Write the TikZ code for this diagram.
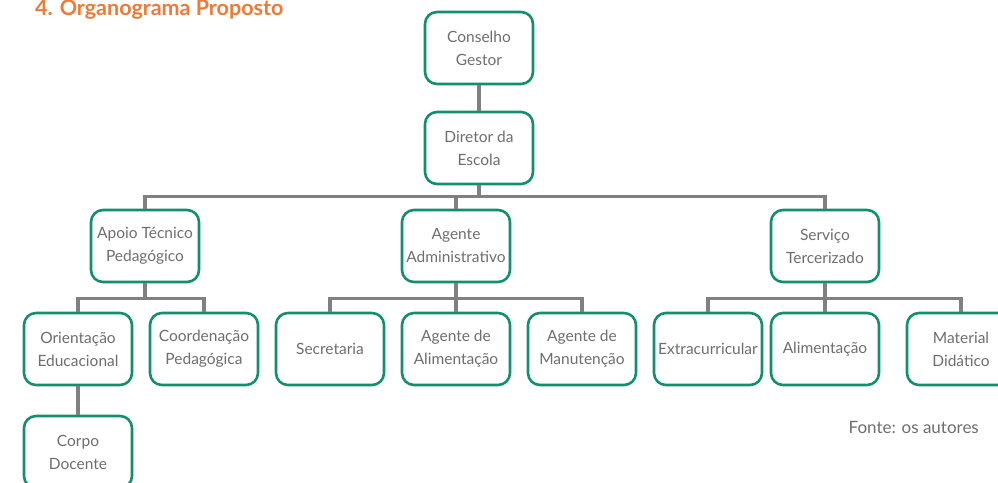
\documentclass[tikz,border=0pt]{standalone}
\usepackage{fontspec}
\setmainfont{Lato}
\usepackage{xcolor}
\usepackage{tikz}
\definecolor{boxline}{HTML}{12906E}
\definecolor{conline}{HTML}{808080}
\definecolor{txt}{HTML}{6E6E6E}
\definecolor{orange}{HTML}{F07A35}
\tikzset{
  box/.style={rectangle, rounded corners=12pt, draw=boxline, line width=2.6pt,
    fill=white, minimum width=108pt, minimum height=72pt, align=center,
    text=txt, font=\fontsize{15.5}{23}\selectfont, inner sep=1pt},
  conn/.style={draw=conline, line width=3.6pt},
  title/.style={text=orange, font=\fontsize{21.5}{24}\selectfont\bfseries, inner sep=0pt},
  lab/.style={text=txt, font=\fontsize{17}{20}\selectfont, inner sep=0pt}
}
\begin{document}
\begin{tikzpicture}[x=1pt,y=-1pt]
  \useasboundingbox[fill=white] (0,0) rectangle (998,482);

  \node[title, anchor=base west] (ttl) at (35,15) {4. Organograma Proposto};

  % levels
  \node[box] (cons) at (479,48) {Conselho\\Gestor};
  \node[box] (dir) at (479,148) {Diretor da\\Escola};

  \node[box] (apoio) at (145,246) {Apoio Técnico\\Pedagógico};
  \node[box] (adm) at (456,246) {Agente\\Administrativo};
  \node[box] (serv) at (825,246) {Serviço\\Tercerizado};

  \node[box] (orie) at (78,349) {Orientação\\Educacional};
  \node[box] (coord) at (204,349) {Coordenação\\Pedagógica};
  \node[box] (secr) at (330,349) {Secretaria};
  \node[box] (alim) at (456,349) {Agente de\\Alimentação};
  \node[box] (manut) at (582,349) {Agente de\\Manutenção};
  \node[box] (extra) at (708,349) {Extracurricular};
  \node[box] (alim2) at (825,349) {Alimentação};
  \node[box] (mat) at (961,349) {Material\\Didático};

  \node[box] (corpo) at (78,452) {Corpo\\Docente};

  \node[lab, anchor=east] (fonte) at (979,427) {Fonte: os autores};

  % connectors
  \draw[conn] (cons.south) -- (dir.north);
  \draw[conn] (dir.south) -- ++(0,11) -| (apoio.north);
  \draw[conn] (dir.south) -- ++(0,11) -| (adm.north);
  \draw[conn] (dir.south) -- ++(0,11) -| (serv.north);
  \draw[conn] (apoio.south) -- ++(0,15) -| (orie.north);
  \draw[conn] (apoio.south) -- ++(0,15) -| (coord.north);
  \draw[conn] (adm.south) -- ++(0,15) -| (secr.north);
  \draw[conn] (adm.south) -- (alim.north);
  \draw[conn] (adm.south) -- ++(0,15) -| (manut.north);
  \draw[conn] (serv.south) -- ++(0,15) -| (extra.north);
  \draw[conn] (serv.south) -- (alim2.north);
  \draw[conn] (serv.south) -- ++(0,15) -| (mat.north);
  \draw[conn] (orie.south) -- (corpo.north);
\end{tikzpicture}
\end{document}
